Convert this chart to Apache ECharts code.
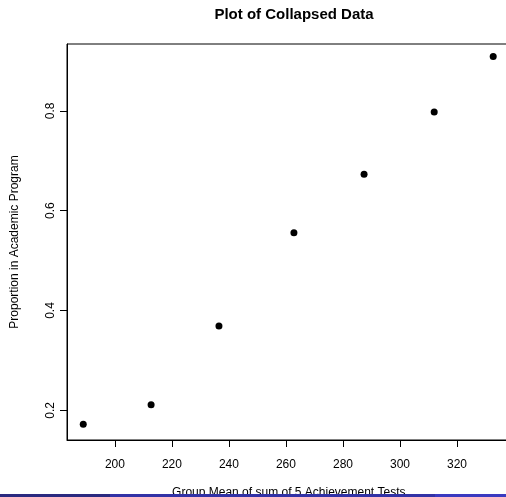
<!DOCTYPE html>
<html>
<head>
<meta charset="utf-8">
<script src="https://cdn.jsdelivr.net/npm/echarts@6/dist/echarts.min.js"></script>
<style>
  html, body { margin: 0; padding: 0; background: #fff; }
  #chart { width: 506px; height: 497px; }
</style>
</head>
<body>
<div id="chart"></div>
<script>
// data
var groupMean = [188.9, 212.7, 236.5, 262.8, 287.4, 312.0, 332.7];
var proportion = [0.172, 0.211, 0.369, 0.556, 0.673, 0.798, 0.909];
var xTicks = [200, 220, 240, 260, 280, 300, 320];
var yTicks = [0.2, 0.4, 0.6, 0.8];

var font = "Liberation Sans, Arial, Helvetica, sans-serif";

var points = groupMean.map(function (x, i) { return [x, proportion[i]]; });

var myChart = echarts.init(document.getElementById('chart'));
var option = {
    backgroundColor: '#fff',
    animation: false,
    title: {
        text: 'Plot of Collapsed Data',
        left: 289,
        top: 2,
        textAlign: 'center',
        textStyle: { fontFamily: font, fontSize: 15, fontWeight: 'bold', color: '#000' }
    },
    grid: {
        left: 67, top: 44, width: 443.6, height: 396,
        outerBoundsMode: 'none',
        show: true, borderColor: '#000', borderWidth: 1
    },
    xAxis: {
        type: 'value',
        min: 183.2, max: 338.8,
        name: 'Group Mean of sum of 5 Achievement Tests',
        nameLocation: 'middle',
        nameGap: 47,
        nameTextStyle: { fontFamily: font, fontSize: 12, color: '#000' },
        splitLine: { show: false },
        axisLine: { show: true, lineStyle: { color: '#000', width: 1 } },
        axisTick: { show: true, inside: false, customValues: xTicks, length: 7, lineStyle: { color: '#000', width: 1 } },
        axisLabel: { customValues: xTicks, margin: 19, fontFamily: font, fontSize: 12, color: '#000' }
    },
    yAxis: {
        type: 'value',
        min: 0.1406, max: 0.934,
        name: 'Proportion in Academic Program',
        nameLocation: 'middle',
        nameGap: 46,
        nameRotate: 90,
        nameTextStyle: { fontFamily: font, fontSize: 12, color: '#000' },
        splitLine: { show: false },
        axisLine: { show: true, lineStyle: { color: '#000', width: 1 } },
        axisTick: { show: true, inside: false, customValues: yTicks, length: 7, lineStyle: { color: '#000', width: 1 } },
        axisLabel: {
            customValues: yTicks, rotate: 90, margin: 10,
            fontFamily: font, fontSize: 12, color: '#000',
            formatter: function (v) { return v.toFixed(1); }
        }
    },
    series: [{
        type: 'scatter',
        data: points,
        symbol: 'circle',
        symbolSize: 7,
        itemStyle: { color: '#000', opacity: 1 }
    }],
    // beamer footer strip at the bottom
    graphic: [
        { type: 'rect', z: 100, shape: { x: 0, y: 494, width: 110, height: 3 }, style: { fill: '#2a2a80' } },
        { type: 'rect', z: 100, shape: { x: 110, y: 494, width: 325, height: 3 }, style: { fill: '#3232a6' } },
        { type: 'rect', z: 100, shape: { x: 435, y: 494, width: 71, height: 3 }, style: { fill: '#3a3ac0' } }
    ]
};
myChart.setOption(option);
</script>
</body>
</html>
